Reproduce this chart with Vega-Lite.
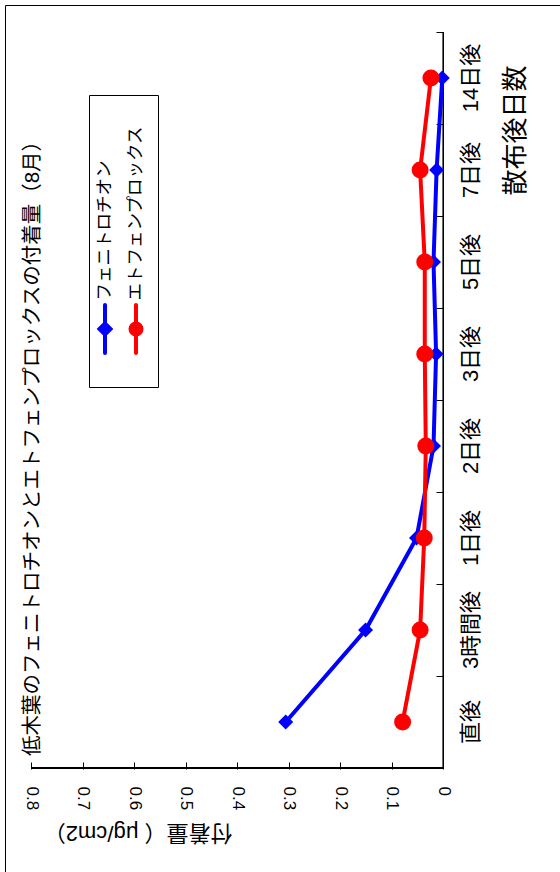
{
  "$schema": "https://vega.github.io/schema/vega-lite/v6.json",
  "width": 555,
  "height": 867,
  "padding": {"left": 5, "top": 5, "right": 0, "bottom": 0},
  "autosize": {"type": "none"},
  "background": "white",
  "config": {
    "view": {"stroke": null},
    "font": "Liberation Sans, Noto Sans CJK JP",
    "axis": {"labelColor": "black", "titleColor": "black", "tickColor": "black", "domainColor": "black", "grid": false, "titleFontWeight": "normal", "labelFont": "Liberation Sans, Noto Sans CJK JP", "titleFont": "Liberation Sans, Noto Sans CJK JP"}
  },
  "data": {
    "values": [
      {"cat": "直後", "series": "フェニトロチオン", "value": 0.306},
      {"cat": "3時間後", "series": "フェニトロチオン", "value": 0.151},
      {"cat": "1日後", "series": "フェニトロチオン", "value": 0.052},
      {"cat": "2日後", "series": "フェニトロチオン", "value": 0.019},
      {"cat": "3日後", "series": "フェニトロチオン", "value": 0.014},
      {"cat": "5日後", "series": "フェニトロチオン", "value": 0.019},
      {"cat": "7日後", "series": "フェニトロチオン", "value": 0.013},
      {"cat": "14日後", "series": "フェニトロチオン", "value": 0.002},
      {"cat": "直後", "series": "エトフェンプロックス", "value": 0.079},
      {"cat": "3時間後", "series": "エトフェンプロックス", "value": 0.045},
      {"cat": "1日後", "series": "エトフェンプロックス", "value": 0.037},
      {"cat": "2日後", "series": "エトフェンプロックス", "value": 0.034},
      {"cat": "3日後", "series": "エトフェンプロックス", "value": 0.036},
      {"cat": "5日後", "series": "エトフェンプロックス", "value": 0.036},
      {"cat": "7日後", "series": "エトフェンプロックス", "value": 0.045},
      {"cat": "14日後", "series": "エトフェンプロックス", "value": 0.024}
    ]
  },
  "resolve": {"axis": {"x": "independent", "y": "independent"}},
  "layer": [
    {
      "mark": {"type": "bar", "fill": null, "stroke": "black", "strokeWidth": 1},
      "encoding": {
        "x": {"datum": 0, "type": "quantitative",
          "scale": {"domain": [-0.2266, 0.85107], "reverse": true, "nice": false, "zero": false},
          "axis": {"orient": "top", "offset": 0, "domain": true, "ticks": false, "labels": false, "title": null}},
        "x2": {"datum": 0},
        "y": {"field": "cat", "type": "nominal",
          "scale": {"type": "band", "domain": ["14日後", "7日後", "5日後", "3日後", "2日後", "1日後", "3時間後", "直後"], "paddingInner": 0, "paddingOuter": 0.712, "align": 0.2061},
          "axis": {"orient": "left", "offset": 0, "domain": true, "ticks": false, "labels": false,
            "title": "低木葉のフェニトロチオンとエトフェンプロックスの付着量（8月）",
            "titleAngle": 270, "titleX": 27, "titleY": 438, "titleAlign": "center", "titleBaseline": "middle", "titleFontSize": 20.5}}
      }
    },
    {
      "mark": {"type": "rule", "color": "black", "strokeWidth": 1},
      "encoding": {
        "x": {"datum": 0, "type": "quantitative",
          "scale": {"domain": [-0.2266, 0.85107], "reverse": true, "nice": false, "zero": false},
          "axis": {"orient": "top", "offset": -764, "domain": false, "ticks": true, "tickSize": 7, "values": [0, 0.1, 0.2, 0.3, 0.4, 0.5, 0.6, 0.7, 0.8], "labels": false, "title": null}},
        "x2": {"datum": 0.8},
        "y": {"datum": "直後", "type": "nominal", "bandPosition": 1,
          "scale": {"type": "band", "domain": ["14日後", "7日後", "5日後", "3日後", "2日後", "1日後", "3時間後", "直後"], "paddingInner": 0, "paddingOuter": 0.712, "align": 0.2061},
          "axis": {"orient": "left", "offset": -438, "domain": false, "ticks": true, "tickSize": 7, "tickBand": "extent", "labels": false, "title": null}}
      }
    },
    {
      "mark": {"type": "line", "strokeWidth": 4},
      "encoding": {
        "x": {"field": "value", "type": "quantitative",
          "scale": {"domain": [-0.2266, 0.85107], "reverse": true, "nice": false, "zero": false},
          "axis": {"orient": "bottom", "offset": -103, "domain": false, "ticks": false, "values": [0, 0.1, 0.2, 0.3, 0.4, 0.5, 0.6, 0.7, 0.8],
            "labelAngle": 90, "labelAlign": "left", "labelBaseline": "middle", "labelPadding": 17, "labelFontSize": 17, "labelFlush": false, "labelOverlap": false,
            "labelExpr": "datum.value == 0 ? '0' : format(datum.value, '.1f')",
            "title": "付着量（ μg/cm2）", "titleAngle": 180, "titleX": 227, "titleY": 63, "titleAlign": "left", "titleBaseline": "middle", "titleFontSize": 22}},
        "y": {"field": "cat", "type": "nominal",
          "scale": {"type": "band", "domain": ["14日後", "7日後", "5日後", "3日後", "2日後", "1日後", "3時間後", "直後"], "paddingInner": 0, "paddingOuter": 0.712, "align": 0.2061},
          "axis": {"orient": "right", "offset": -117, "domain": false, "ticks": false,
            "labelAngle": 270, "labelAlign": "center", "labelBaseline": "top", "labelPadding": 17, "labelFontSize": 22,
            "title": "散布後日数", "titleAngle": 270, "titleX": 72, "titleY": 125, "titleAlign": "center", "titleBaseline": "middle", "titleFontSize": 26}},
        "color": {"field": "series", "type": "nominal",
          "scale": {"domain": ["フェニトロチオン", "エトフェンプロックス"], "range": ["#0000ff", "#ff0000"]},
          "legend": {
            "orient": "none", "legendX": 84, "legendY": 90, "direction": "horizontal", "title": null,
            "strokeColor": "black", "fillColor": "white", "padding": 8, "columnPadding": 3,
            "symbolSize": 2304, "symbolStrokeWidth": 4,
            "labelFontSize": 17.5, "labelFont": "Noto Sans CJK JP", "labelColor": "black", "labelLimit": 0,
            "labelExpr": "datum.label + (datum.label === 'フェニトロチオン' ? '\u3000\u3000\u3000\u2002' : '\u3000\u2002')",
            "encode": {
              "symbols": {
                "update": {
                  "shape": {"signal": "datum.value === 'フェニトロチオン' ? 'M0,-1V1M-0.23,0L0,-0.23L0.23,0L0,0.23ZM0,1.73' : 'M0,-1V1M-0.23,0A0.23,0.23,0,1,1,0.23,0A0.23,0.23,0,1,1,-0.23,0ZM0,1.73'"},
                  "fill": {"signal": "datum.value === 'フェニトロチオン' ? '#0000ff' : '#ff0000'"},
                  "stroke": {"signal": "datum.value === 'フェニトロチオン' ? '#0000ff' : '#ff0000'"},
                  "strokeWidth": {"value": 4},
                  "strokeCap": {"value": "round"},
                  "opacity": {"value": 1},
                  "x": {"value": 8},
                  "y": {"value": 225.5}
                }
              },
              "labels": {
                "update": {
                  "angle": {"value": 270},
                  "align": {"value": "left"},
                  "baseline": {"value": "middle"},
                  "x": {"value": 8},
                  "y": {"value": 197}
                }
              }
            }
          }},
        "order": {"value": null}
      }
    },
    {
      "transform": [{"filter": "datum.series === 'フェニトロチオン'"}],
      "mark": {"type": "point", "shape": "diamond", "filled": true, "opacity": 1, "color": "#0000ff", "size": 225},
      "encoding": {
        "x": {"field": "value", "type": "quantitative",
          "scale": {"domain": [-0.2266, 0.85107], "reverse": true, "nice": false, "zero": false},
          "axis": null},
        "y": {"field": "cat", "type": "nominal",
          "scale": {"type": "band", "domain": ["14日後", "7日後", "5日後", "3日後", "2日後", "1日後", "3時間後", "直後"], "paddingInner": 0, "paddingOuter": 0.712, "align": 0.2061},
          "axis": null}
      }
    },
    {
      "transform": [{"filter": "datum.series === 'エトフェンプロックス'"}],
      "mark": {"type": "point", "shape": "circle", "filled": true, "opacity": 1, "color": "#ff0000", "size": 289},
      "encoding": {
        "x": {"field": "value", "type": "quantitative",
          "scale": {"domain": [-0.2266, 0.85107], "reverse": true, "nice": false, "zero": false},
          "axis": null},
        "y": {"field": "cat", "type": "nominal",
          "scale": {"type": "band", "domain": ["14日後", "7日後", "5日後", "3日後", "2日後", "1日後", "3時間後", "直後"], "paddingInner": 0, "paddingOuter": 0.712, "align": 0.2061},
          "axis": null}
      }
    }
  ]
}
